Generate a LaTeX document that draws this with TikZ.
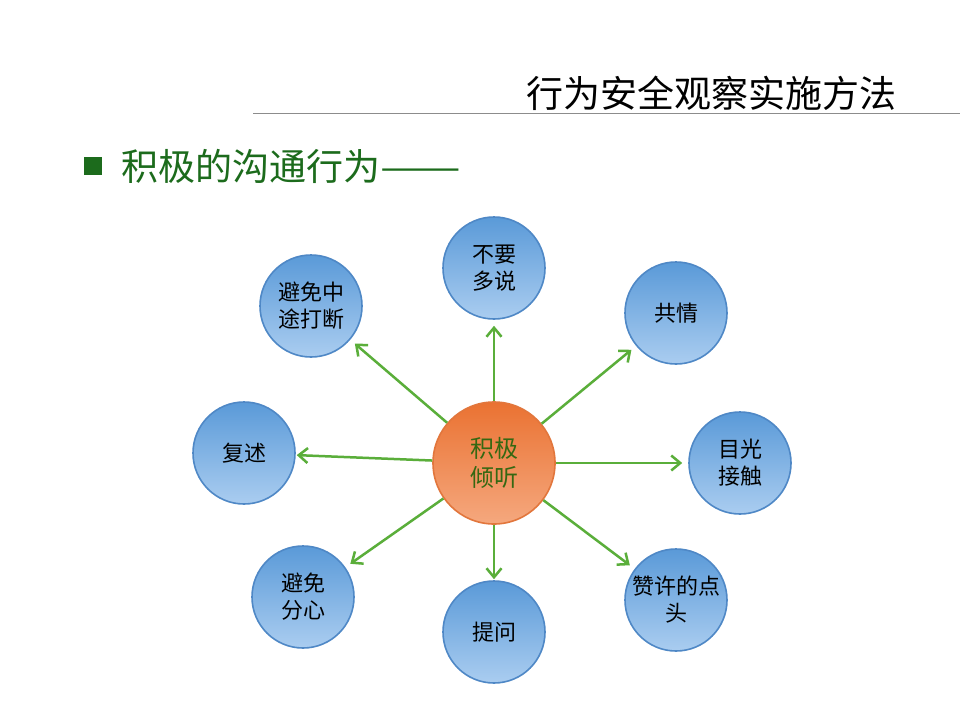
\documentclass[tikz,border=0pt]{standalone}
\usepackage{fontspec}
\setmainfont{Noto Sans CJK SC}
\usetikzlibrary{arrows.meta}
\definecolor{bluetop}{HTML}{5A9AD8}
\definecolor{bluebot}{HTML}{AACDF0}
\definecolor{blueline}{HTML}{4F88C6}
\definecolor{orgtop}{HTML}{EA7232}
\definecolor{orgbot}{HTML}{F5A87E}
\definecolor{orgline}{HTML}{E2763C}
\definecolor{arrowgreen}{HTML}{5AAE3A}
\definecolor{headgreen}{HTML}{1C6B1C}
\definecolor{centertext}{HTML}{356812}
\definecolor{rulegray}{HTML}{8C8C8C}
\begin{document}
\begin{tikzpicture}[x=1pt,y=-1pt,
  bluecirc/.style={circle,draw=blueline,line width=1.6pt,minimum size=102pt,inner sep=0pt,
    top color=bluetop,bottom color=bluebot,align=center,text=black,
    font=\fontsize{22}{27}\selectfont},
  orgcirc/.style={circle,draw=orgline,line width=1.6pt,minimum size=122pt,inner sep=0pt,
    top color=orgtop,bottom color=orgbot,align=center,text=centertext,
    font=\fontsize{24}{29}\selectfont},
  spoke/.style={draw=arrowgreen,line width=2.5pt,-{Straight Barb[length=9pt,width=15pt,line width=2.5pt]},shorten >=6pt}
]
\useasboundingbox (0,0) rectangle (960,720);
\fill[white] (0,0) rectangle (960,720);

% title and rule
\node[font=\fontsize{37}{42}\selectfont,text=black,inner sep=0pt] (title) at (711,93) {行为安全观察实施方法};
\coordinate (ruleL) at (253,113);
\coordinate (ruleR) at (960,113);
\draw[rulegray,line width=1pt] (ruleL) -- (ruleR);

% bullet
\node[fill=headgreen,minimum size=18pt,inner sep=0pt] (sq) at (93,166) {};
\node[anchor=west,font=\fontsize{37}{42}\selectfont,text=headgreen,inner sep=0pt] (head) at (121,166) {积极的沟通行为\scalebox{1.3}[1]{——}};

% circles
\node[orgcirc] (c) at (494,463) {积极\\倾听};
\node[bluecirc] (n1) at (494,268) {不要\\多说};
\node[bluecirc] (n2) at (676,313) {共情};
\node[bluecirc] (n3) at (740,463) {目光\\接触};
\node[bluecirc] (n4) at (676,600) {赞许的点\\头};
\node[bluecirc] (n5) at (494,632) {提问};
\node[bluecirc] (n6) at (303,597) {避免\\分心};
\node[bluecirc] (n7) at (244,453) {复述};
\node[bluecirc] (n8) at (311,306) {避免中\\途打断};

% arrows
\draw[spoke] (c) -- (n1);
\draw[spoke] (c) -- (n2);
\draw[spoke] (c) -- (n3);
\draw[spoke] (c) -- (n4);
\draw[spoke,shorten >=1pt] (c) -- (n5);
\draw[spoke] (c) -- (n6);
\draw[spoke,shorten >=1pt] (c) -- (n7);
\draw[spoke] (c) -- (n8);
\end{tikzpicture}
\end{document}
